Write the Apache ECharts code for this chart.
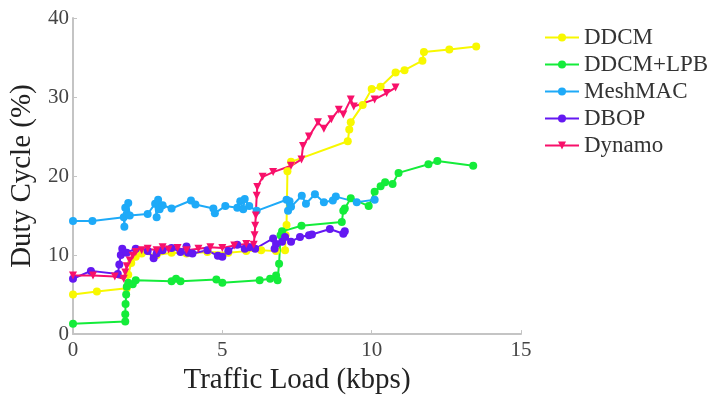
<!DOCTYPE html>
<html>
<head>
<meta charset="utf-8">
<script src="https://cdn.jsdelivr.net/npm/echarts@6/dist/echarts.min.js"></script>
<style>
  html, body { margin: 0; padding: 0; background: #fff; }
  #chart { width: 712px; height: 400px; }
</style>
</head>
<body>
<div id="chart"></div>
<script>
// 图例名称
const seriesNames = ['DDCM', 'DDCM+LPB', 'MeshMAC', 'DBOP', 'Dynamo']

// DDCM
const ddcmX = [0, 0.8, 1.8, 1.85, 1.95, 2.1, 2.3, 2.8, 3.3, 3.8, 4.5, 5.2, 5.8, 6.3, 6.8, 7.1, 7.12, 7.15, 7.18, 7.3, 9.2, 9.25, 9.3, 9.7, 10.0, 10.3, 10.8, 11.1, 11.7, 11.75, 12.6, 13.5]
const ddcmY = [5.0, 5.4, 5.8, 7.5, 9.0, 9.8, 10.2, 10.0, 10.3, 10.2, 10.4, 10.3, 10.5, 10.6, 10.5, 10.6, 12.5, 13.8, 20.6, 21.8, 24.4, 25.9, 26.8, 29.0, 31.0, 31.3, 33.1, 33.4, 34.6, 35.7, 36.0, 36.4]

// DDCM+LPB
const lpbX = [0, 1.75, 1.75, 1.76, 1.78, 1.8, 1.85, 2.0, 2.1, 3.3, 3.45, 3.6, 4.8, 5.0, 6.25, 6.6, 6.8, 6.85, 6.9, 6.95, 7.0, 7.65, 9.0, 9.05, 9.1, 9.3, 9.9, 10.1, 10.3, 10.45, 10.7, 10.9, 11.9, 12.2, 13.4]
const lpbY = [1.3, 1.6, 2.5, 3.8, 5.0, 6.0, 6.5, 6.3, 6.8, 6.7, 7.0, 6.7, 6.9, 6.5, 6.8, 7.0, 7.4, 6.8, 8.9, 12.5, 13.0, 13.7, 14.2, 15.6, 15.9, 17.2, 16.2, 18.0, 18.7, 19.2, 19.0, 20.4, 21.5, 21.9, 21.3]

// MeshMAC
const meshX = [0, 0.65, 1.7, 1.72, 1.75, 1.8, 1.85, 1.9, 2.5, 2.75, 2.8, 2.85, 2.9, 3.0, 3.3, 3.95, 4.1, 4.7, 4.75, 5.1, 5.5, 5.6, 5.7, 5.75, 5.9, 6.15, 7.15, 7.2, 7.25, 7.3, 7.66, 7.8, 8.1, 8.4, 8.7, 8.8, 9.5, 10.1]
const meshY = [14.3, 14.3, 14.8, 13.6, 16.0, 15.2, 16.6, 15.0, 15.2, 16.5, 14.8, 17.0, 15.8, 16.3, 15.9, 16.9, 16.4, 15.9, 15.3, 16.2, 16.0, 16.8, 15.8, 17.1, 16.2, 15.6, 17.0, 15.6, 16.8, 16.1, 17.5, 16.5, 17.7, 16.7, 16.9, 17.4, 16.7, 17.0]

// DBOP
const dbopX = [0, 0.6, 1.5, 1.55, 1.6, 1.65, 1.8, 2.1, 2.5, 2.7, 2.8, 3.0, 3.3, 3.6, 3.8, 3.85, 4.0, 4.5, 4.85, 5.0, 5.2, 5.5, 5.75, 5.9, 6.1, 6.7, 6.75, 6.8, 7.0, 7.1, 7.3, 7.6, 7.9, 8.0, 8.6, 9.05, 9.1]
const dbopY = [7.0, 8.0, 7.6, 8.8, 10.0, 10.8, 10.3, 10.8, 10.5, 9.6, 10.2, 10.6, 10.9, 10.4, 11.1, 10.3, 10.2, 10.6, 9.9, 9.8, 10.5, 11.3, 10.8, 11.0, 10.8, 12.1, 10.8, 11.4, 11.7, 12.3, 11.7, 12.3, 12.5, 12.6, 13.3, 12.7, 13.0]

// Dynamo
const dynX = [0, 0.67, 1.4, 1.7, 1.75, 1.8, 1.9, 2.0, 2.1, 2.3, 2.5, 2.8, 3.0, 3.2, 3.5, 3.8, 4.2, 4.6, 5.0, 5.4, 5.8, 6.05, 6.08, 6.1, 6.12, 6.15, 6.17, 6.35, 6.7, 7.3, 7.65, 7.7, 7.9, 8.2, 8.4, 8.65, 8.9, 9.05, 9.3, 9.4, 10.1, 10.5, 10.8]
const dynY = [7.4, 7.4, 7.3, 7.0, 7.8, 8.6, 9.3, 9.9, 10.4, 10.6, 10.8, 10.6, 11.0, 10.7, 10.9, 10.6, 10.8, 11.0, 10.9, 11.2, 11.4, 11.3, 12.5, 13.7, 15.0, 17.5, 18.6, 19.9, 20.5, 21.3, 22.1, 23.8, 25.0, 26.8, 26.0, 27.2, 28.4, 27.8, 29.7, 28.8, 29.7, 30.5, 31.2]

const colors = ['#f8f800', '#14ec3a', '#1eaaf8', '#6418f2', '#f8106a']
const serif = '"Liberation Serif", "Times New Roman", serif'

const zip = (xs, ys) => xs.map((x, i) => [x, ys[i]])
const seriesData = [zip(ddcmX, ddcmY), zip(lpbX, lpbY), zip(meshX, meshY), zip(dbopX, dbopY), zip(dynX, dynY)]

const chart = echarts.init(document.getElementById('chart'))

const option = {
  animation: false,
  grid: { left: 73, right: 191, top: 18, bottom: 64 },
  legend: {
    orient: 'vertical',
    left: 539,
    top: 21,
    itemGap: 4,
    itemWidth: 34,
    itemHeight: 10,
    textStyle: { fontFamily: serif, fontSize: 23, color: '#333' },
    data: seriesNames
  },
  xAxis: {
    type: 'value',
    min: 0,
    max: 15,
    interval: 5,
    name: 'Traffic Load (kbps)',
    nameLocation: 'middle',
    nameGap: 31,
    nameTextStyle: { fontFamily: serif, fontSize: 29, color: '#222' },
    axisLine: { lineStyle: { color: '#c4c4c4', width: 2 } },
    axisTick: { inside: true, length: 4, lineStyle: { color: '#c4c4c4' } },
    axisLabel: { fontFamily: serif, fontSize: 21, color: '#444', margin: 6 },
    splitLine: { show: false }
  },
  yAxis: {
    type: 'value',
    min: 0,
    max: 40,
    interval: 10,
    name: 'Duty Cycle (%)',
    nameLocation: 'middle',
    nameGap: 36,
    nameTextStyle: { fontFamily: serif, fontSize: 29, color: '#222' },
    axisLine: { show: true, lineStyle: { color: '#c4c4c4', width: 2 } },
    axisTick: { show: true, inside: true, length: 4, lineStyle: { color: '#c4c4c4' } },
    axisLabel: { fontFamily: serif, fontSize: 21, color: '#444', margin: 4 },
    splitLine: { show: false }
  },
  series: seriesNames.map((name, i) => ({
    name,
    type: 'line',
    data: seriesData[i],
    symbol: i === 4 ? 'triangle' : 'circle',
    symbolRotate: i === 4 ? 180 : 0,
    symbolSize: 8,
    showAllSymbol: true,
    itemStyle: { color: colors[i] },
    lineStyle: { color: colors[i], width: 2 }
  }))
}

chart.setOption(option)
</script>
</body>
</html>
